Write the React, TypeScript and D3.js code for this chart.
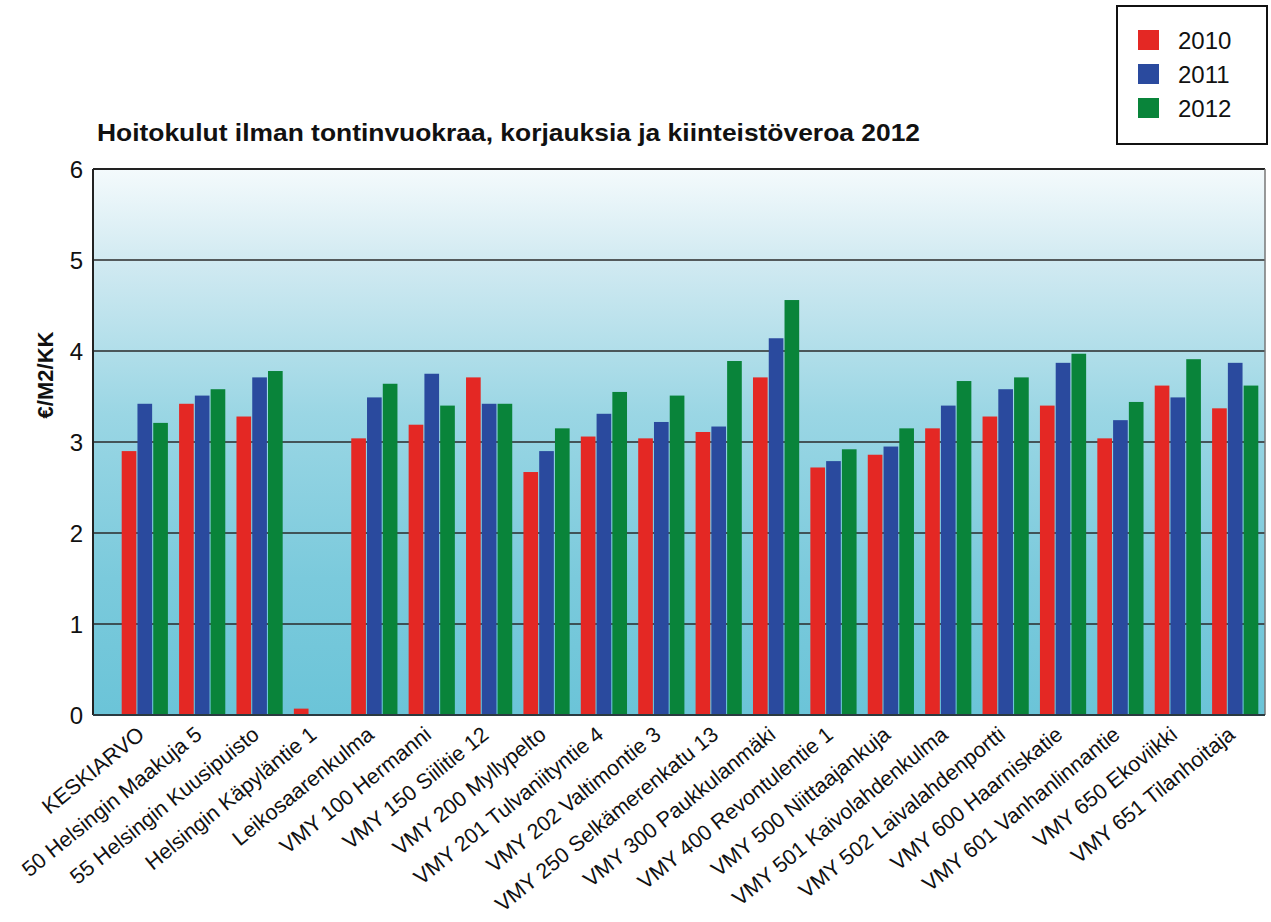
import React from "react";
import * as d3 from "d3";

const categories = [
  "KESKIARVO",
  "50 Helsingin Maakuja 5",
  "55 Helsingin Kuusipuisto",
  "Helsingin Käpyläntie 1",
  "Leikosaarenkulma",
  "VMY 100 Hermanni",
  "VMY 150 Siilitie 12",
  "VMY 200 Myllypelto",
  "VMY 201 Tulvaniityntie 4",
  "VMY 202 Valtimontie 3",
  "VMY 250 Selkämerenkatu 13",
  "VMY 300 Paukkulanmäki",
  "VMY 400 Revontulentie 1",
  "VMY 500 Niittaajankuja",
  "VMY 501 Kaivolahdenkulma",
  "VMY 502 Laivalahdenportti",
  "VMY 600 Haarniskatie",
  "VMY 601 Vanhanlinnantie",
  "VMY 650 Ekoviikki",
  "VMY 651 Tilanhoitaja",
];

const seriesNames = ["2010", "2011", "2012"];
const values2010 = [2.9, 3.42, 3.28, 0.07, 3.04, 3.19, 3.71, 2.67, 3.06, 3.04, 3.11, 3.71, 2.72, 2.86, 3.15, 3.28, 3.4, 3.04, 3.62, 3.37];
const values2011 = [3.42, 3.51, 3.71, null, 3.49, 3.75, 3.42, 2.9, 3.31, 3.22, 3.17, 4.14, 2.79, 2.95, 3.4, 3.58, 3.87, 3.24, 3.49, 3.87];
const values2012 = [3.21, 3.58, 3.78, null, 3.64, 3.4, 3.42, 3.15, 3.55, 3.51, 3.89, 4.56, 2.92, 3.15, 3.67, 3.71, 3.97, 3.44, 3.91, 3.62];
const seriesColors = ["#e42824", "#2a4a9e", "#09843a"];
const yTicks = [0, 1, 2, 3, 4, 5, 6];

const title = "Hoitokulut ilman tontinvuokraa, korjauksia ja kiinteistöveroa 2012";
const yTitle = "€/M2/KK";

export default function App() {
  const W = 1271, H = 922;
  const left = 93, right = 1265, top = 169, bottom = 715;
  const seriesVals = [values2010, values2011, values2012];

  const y = d3.scaleLinear().domain([0, 6]).range([bottom, top]);
  const x0 = d3.scaleBand<string>().domain(categories).range([93, 1287]).paddingInner(0.195).paddingOuter(0.5);
  const x1 = d3.scaleBand<string>().domain(seriesNames).range([0, x0.bandwidth()]).paddingInner(0.07);

  const font = "'Liberation Sans', Arial, sans-serif";

  return (
    <svg width={W} height={H} style={{ position: "absolute", left: 0, top: 0, background: "#fff" }} fontFamily={font}>
      <defs>
        <linearGradient id="bg" x1="0" y1="0" x2="0" y2="1">
          <stop offset="0%" stopColor="#f4fafc" />
          <stop offset="18%" stopColor="#cfe9f1" />
          <stop offset="45%" stopColor="#9ad6e4" />
          <stop offset="75%" stopColor="#7bcadc" />
          <stop offset="100%" stopColor="#6bc4d8" />
        </linearGradient>
      </defs>
      <rect x={left} y={top} width={right - left} height={bottom - top} fill="url(#bg)" />
      {yTicks.map((t) => (
        <g key={t}>
          {t > 0 && t < 6 && (
            <line x1={left} x2={right} y1={y(t)} y2={y(t)} stroke="#2a2a2a" strokeWidth={1.6} />
          )}
          <text x={83} y={y(t)} dy="0.36em" textAnchor="end" fontSize={24} fill="#111">
            {t}
          </text>
        </g>
      ))}
      {categories.map((c, i) => (
        <g key={c} transform={`translate(${x0(c)},0)`}>
          {seriesNames.map((s, k) => {
            const v = seriesVals[k][i];
            if (v == null) return null;
            return (
              <rect
                key={s}
                x={x1(s)}
                y={y(v)}
                width={x1.bandwidth()}
                height={y(0) - y(v)}
                fill={seriesColors[k]}
              />
            );
          })}
        </g>
      ))}
      {/* frame */}
      <line x1={left} x2={right} y1={top} y2={top} stroke="#222" strokeWidth={2} />
      <line x1={left} x2={left} y1={top} y2={bottom} stroke="#222" strokeWidth={2} />
      <line x1={right} x2={right} y1={top} y2={bottom} stroke="#777" strokeWidth={1.5} />
      <line x1={left} x2={right} y1={bottom} y2={bottom} stroke="#2a3a40" strokeWidth={2} />

      {categories.map((c) => {
        const cx = (x0(c) as number) + x0.bandwidth() / 2;
        return (
          <text
            key={c}
            transform={`translate(${cx + 1},${737}) rotate(-39)`}
            textAnchor="end"
            fontSize={21.5}
            fill="#111"
          >
            {c}
          </text>
        );
      })}

      <text x={97} y={141} fontSize={24} fontWeight="bold" fill="#111" textLength={823} lengthAdjust="spacingAndGlyphs">
        {title}
      </text>
      <text transform={`translate(53,375) rotate(-90)`} textAnchor="middle" fontSize={22} fontWeight="bold" fill="#111">
        {yTitle}
      </text>

      <g>
        <rect x={1117} y={6} width={150} height={138} fill="#fff" stroke="#111" strokeWidth={2} />
        {seriesNames.map((s, k) => (
          <g key={s} transform={`translate(1138,${30 + k * 34})`}>
            <rect x={0} y={0} width={21} height={20} fill={seriesColors[k]} />
            <text x={40} y={19} fontSize={24} fill="#111">
              {s}
            </text>
          </g>
        ))}
      </g>
    </svg>
  );
}
